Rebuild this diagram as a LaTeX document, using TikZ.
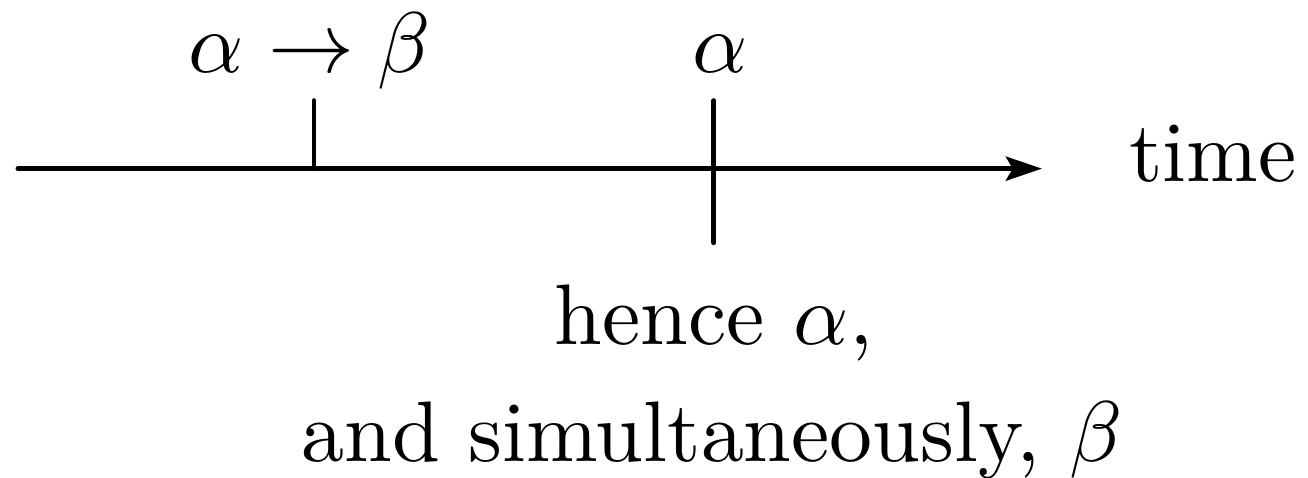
\documentclass[tikz,border=0pt]{standalone}
\usetikzlibrary{arrows.meta}
\begin{document}
\begin{tikzpicture}[x=0.1163pt,y=-0.1163pt,
  axisline/.style={line width=0.58pt,line cap=round,-{Stealth[length=4.2pt,width=2.8pt,inset=0.8pt]}},
  tickline/.style={line width=0.58pt,line cap=round},
  lbl/.style={anchor=base,inner sep=0pt}]
\useasboundingbox (0,0) rectangle (1308,478);
\coordinate (L) at (18,168.7);
\coordinate (R) at (1042,168.7);
\coordinate (t1top) at (314,100.7);
\coordinate (t1) at (314,168.7);
\coordinate (t2top) at (714,100.7);
\coordinate (t2bot) at (714,242.7);
\draw[axisline] (L) -- (R);
\draw[tickline] (t1top) -- (t1);
\draw[tickline] (t2top) -- (t2bot);
\node[lbl] (l1) at (310,73) {$\alpha\rightarrow\beta$};
\node[lbl] (l2) at (720,73) {$\alpha$};
\node[lbl] (time) at (1213,182) {time};
\node[lbl] (h1) at (714,345) {hence $\alpha$,};
\node[lbl] (h2) at (712,462) {and simultaneously, $\beta$};
\end{tikzpicture}
\end{document}
